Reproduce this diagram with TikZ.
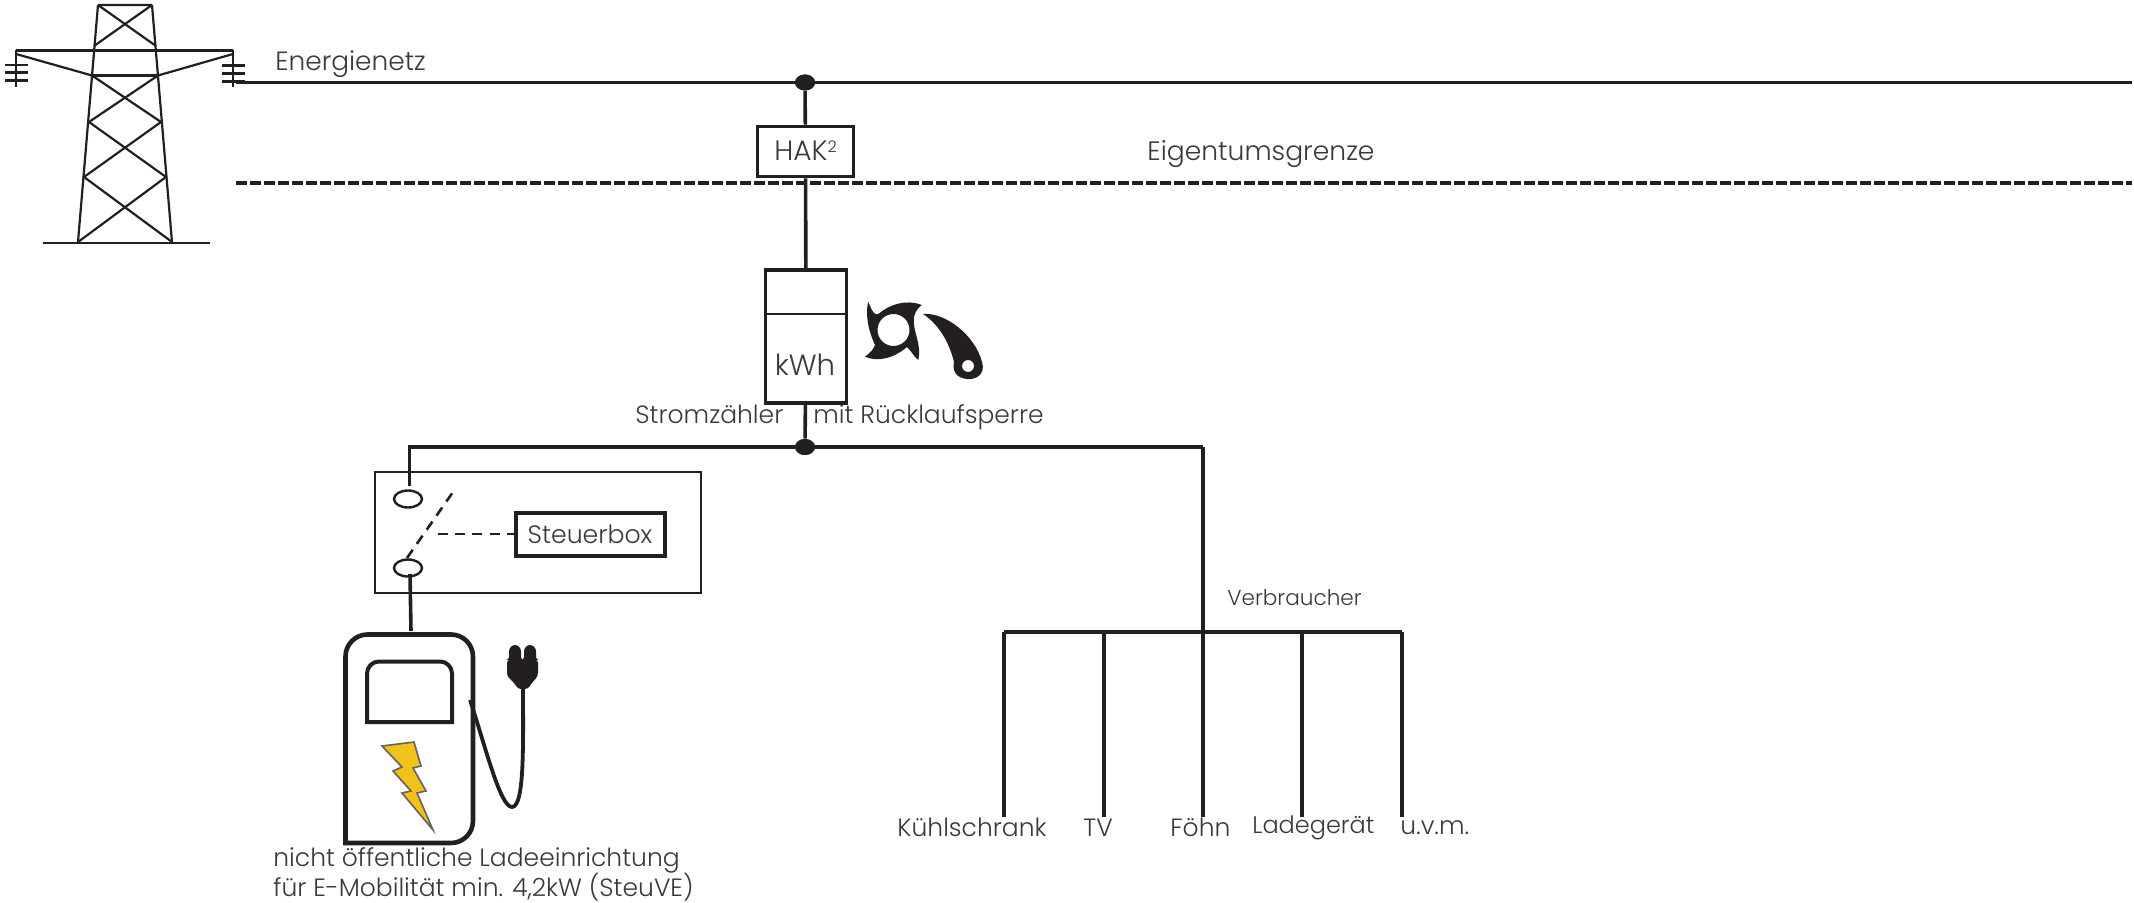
\documentclass[tikz,border=0pt]{standalone}
\usepackage{fontspec}
\setmainfont{Poppins}[UprightFont=* Light]
\usetikzlibrary{shapes.geometric}
\definecolor{ink}{HTML}{231F20}
\definecolor{txt}{HTML}{3A3839}
\definecolor{bolt}{HTML}{F2C21A}
\tikzset{
  wire/.style={draw=ink,line width=1.8pt},
  mast/.style={draw=ink,line width=1.1pt},
  grenze/.style={draw=ink,line width=1.8pt,dash pattern=on 5.5pt off 1.5pt},
  ctrl/.style={draw=ink,line width=1.3pt,dash pattern=on 5pt off 3.6pt},
  boxed/.style={draw=ink,line width=1.9pt,fill=white,inner sep=0pt,text=txt},
  dot/.style={ellipse,fill=ink,inner sep=0pt,minimum width=10pt,minimum height=8pt},
  kontakt/.style={ellipse,draw=ink,line width=1.2pt,fill=white,inner sep=0pt,minimum width=14pt,minimum height=8.5pt},
  lab/.style={anchor=base west,inner sep=0pt,text=txt,font=\fontsize{12.5}{14}\selectfont},
}
\begin{document}
\begin{tikzpicture}[x=0.5pt,y=-0.5pt]
\useasboundingbox (0,0) rectangle (2134,903);
% tower
\draw[mast] (98,5)--(152,5) (98,5)--(78,242) (152,5)--(172,242);
\draw[mast] (98,5)--(156,46) (152,5)--(94,46);
\draw[mast] (16,50.5)--(233,50.5) (92,75.5)--(158,75.5);
\draw[mast] (16,54)--(92,75.5) (233,54)--(158,75.5);
\draw[mast] (92,75.5)--(161,122) (158,75.5)--(89,122)
            (89,122)--(166,177) (161,122)--(84,177)
            (84,177)--(172,242) (166,177)--(78,242);
\draw[draw=ink,line width=1.3pt] (43,243)--(210,243);
\draw[mast] (16,50.5)--(16,87) (5,65)--(28,65) (5,72.5)--(28,72.5) (5,80.5)--(28,80.5);
\draw[mast] (233,50.5)--(233,87) (222,65.5)--(245,65.5) (222,73.5)--(245,73.5) (222,81.5)--(245,81.5);
% named points
\coordinate (netzA) at (236,82.5);
\coordinate (netzB) at (2132,82.5);
\coordinate (grA) at (236,183);
\coordinate (grB) at (2132,183);
\node[dot] (j1) at (805,82.5) {};
\node[dot] (j2) at (805,447) {};
\node[boxed,minimum width=48pt,minimum height=25pt] (hak) at (805.5,151.5) {\raisebox{1pt}{\fontsize{14}{16}\selectfont HAK\raisebox{0.55ex}{\fontsize{8}{9}\selectfont 2}}};
\node[boxed,minimum width=40.5pt,minimum height=66.5pt] (meter) at (806,336.5) {};
\node[text=txt,inner sep=0pt,font=\fontsize{14.6}{17}\selectfont] (kwh) at (805,365) {kWh};
\coordinate (mL) at (meter.west |- 0,314);
\coordinate (mR) at (meter.east |- 0,314);
\draw[wire] (netzA)--(netzB);
\draw[grenze] (grA)--(grB);
\draw[wire] (j1)--(hak);
\draw[wire] (hak)--(meter);
\draw[wire] (meter)--(j2);
\draw[draw=ink,line width=1.4pt] (mL)--(mR);
\node[dot] at (j1) {};
\node[dot] at (j2) {};
% ratchet wheel
\fill[ink,even odd rule] (868.3,301.7) .. controls (873.3,315) and (876,315) .. (878.3,314)
  .. controls (890,304) and (906.7,299) .. (921.7,305)
  .. controls (918,308) and (915,312) .. (914,317)
  .. controls (912,331) and (922,343) .. (918.3,360)
  .. controls (915,358) and (912,352) .. (907,347)
  .. controls (893,359) and (876.7,362) .. (865,356.7)
  .. controls (870,353) and (873,350) .. (875,345)
  .. controls (868,330) and (865,313) .. (868.3,301.7) -- cycle
  (893.5,330) circle[radius=8pt];
% pawl
\fill[ink,even odd rule] (923,314) .. controls (945,312) and (975,335) .. (982,362)
  .. controls (986,375) and (975,380) .. (967,379)
  .. controls (957,378) and (952,372) .. (954,362)
  .. controls (950,345) and (940,325) .. (923,314) -- cycle
  (968,366) circle[radius=3pt];
% switch cabinet
\node[draw=ink,line width=1.2pt,inner sep=0pt,minimum width=163pt,minimum height=60.5pt] (schrank) at (538,532.5) {};
\node[kontakt] (s1) at (408,499) {};
\node[kontakt] (s2) at (408,568) {};
\node[boxed,line width=2pt,minimum width=74.5pt,minimum height=21.5pt] (steuer) at (590,534) {\fontsize{12.6}{14}\selectfont Steuerbox};
\coordinate (hA) at (438,534);
\coordinate (swA) at (407,558);
\coordinate (swB) at (453,492);
\coordinate (einA) at (409.5,486);
\coordinate (ausA) at (410,574);
\coordinate (ausB) at (411,631);
\coordinate (busE) at (1203,447);
\draw[wire] (j2) -| (einA);
\draw[wire] (j2) -- (busE);
\draw[ctrl] (swA)--(swB);
\draw[ctrl] (hA)--(steuer.west);
\draw[wire] (ausA)--(ausB);
% consumers
\coordinate (b1) at (1004,632);
\coordinate (b2) at (1104,632);
\coordinate (b3) at (1203,632);
\coordinate (b4) at (1302,632);
\coordinate (b5) at (1402,632);
\coordinate (e1) at (1004,817);
\coordinate (e2) at (1104,817);
\coordinate (e3) at (1203,817);
\coordinate (e4) at (1302,817);
\coordinate (e5) at (1402,817);
\draw[wire] (busE)--(e3);
\draw[wire] (b1)--(b5);
\draw[wire] (b1)--(e1);
\draw[wire] (b2)--(e2);
\draw[wire] (b4)--(e4);
\draw[wire] (b5)--(e5);
% charger
\draw[draw=ink,line width=2.3pt,fill=white,rounded corners=11pt] (345.5,843) -- (345.5,634.5) -- (473,634.5) -- (473,843) [sharp corners] -- cycle;
\draw[draw=ink,line width=2pt,rounded corners=6pt] (367,722) -- (367,661.5) -- (452,661.5) [sharp corners] -- (452,722) -- cycle;
\draw[draw=ink,line width=2pt,sharp corners] (367,722) -- (367,680) (452,722) -- (452,680) (367,722) -- (452,722);
\draw[draw=ink!70,line width=0.8pt,fill=bolt] (382,746) -- (414,742) -- (421,766) -- (413,768) -- (426,791) -- (417,793) -- (433,830) -- (402,793) -- (411,791) -- (393,771) -- (402,767) -- cycle;
% cable and plug
\coordinate (kabelA) at (470,700);
\coordinate (kabelB) at (523,684);
\draw[draw=ink,line width=1.9pt] (kabelA) .. controls (485,745) and (500,807) .. (512,807)
   .. controls (525,807) and (523,740) .. (kabelB);
\fill[ink,rounded corners=1.5pt] (509,660) -- (509,648) -- (515,644) -- (521,648) -- (521,660) -- (524,660) -- (524,648) -- (530,644) -- (536,648) -- (536,660) -- (538,660) -- (538,676) -- (531,684) -- (528,689) -- (518,689) -- (515,684) -- (507,676) -- (507,660) -- cycle;
% labels
\node[lab,font=\fontsize{13.2}{15}\selectfont] (t1) at (275,70.5) {Energienetz};
\node[lab,font=\fontsize{13.3}{15}\selectfont] (t2) at (1147,160.5) {Eigentumsgrenze};
\node[lab] (t3) at (635,423) {Stromzähler};
\node[lab] (t4) at (813,423) {mit Rücklaufsperre};
\node[lab,font=\fontsize{10.8}{12}\selectfont] (t5) at (1227,605) {Verbraucher};
\node[lab] (t6) at (897,836) {Kühlschrank};
\node[lab] (t7) at (1083,836) {TV};
\node[lab] (t8) at (1170,836) {Föhn};
\node[lab,font=\fontsize{12}{14}\selectfont] (t9) at (1252,833) {Ladegerät};
\node[lab] (t10) at (1400,834) {u.v.m.};
\node[lab] (t11) at (273,866) {nicht öffentliche Ladeeinrichtung};
\node[lab] (t12) at (273,896) {für E-Mobilität min. 4,2kW (SteuVE)};
\end{tikzpicture}
\end{document}
